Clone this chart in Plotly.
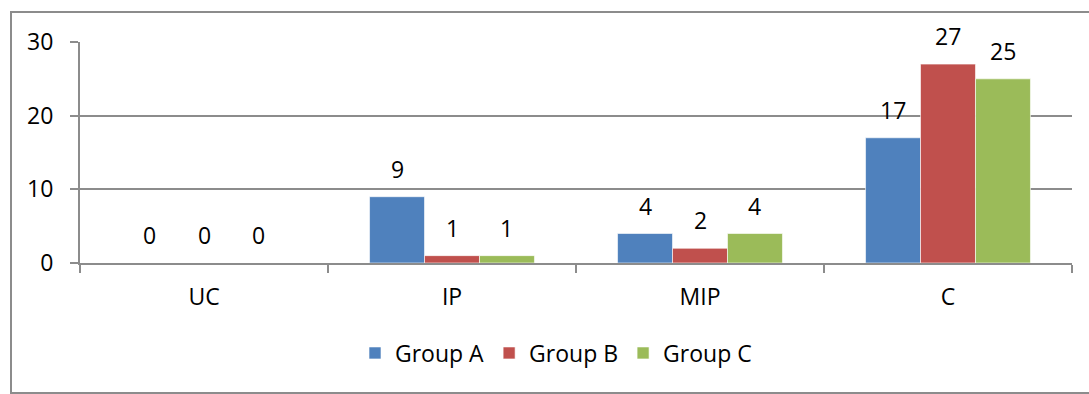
import plotly.graph_objects as go

# Counts per category for each group
categories = ["UC", "IP", "MIP", "C"]
group_a = [0, 9, 4, 17]
group_b = [0, 1, 2, 27]
group_c = [0, 1, 4, 25]
series_names = ["Group A", "Group B", "Group C"]
series_colors = ["#4F81BD", "#C0504D", "#9BBB59"]
y_ticks = [0, 10, 20, 30]

FONT = "Open Sans"
FS = 23
GRID = "#8C8C8C"

W, H = 1089, 394
ML, MR, MT, MB = 80, 17, 42, 131
plot_w = W - ML - MR
plot_h = H - MT - MB
BARGAP = 0.335
bar_px = plot_w / len(categories) * (1 - BARGAP) / 3

fig = go.Figure()
all_series = [group_a, group_b, group_c]
for name, vals, color in zip(series_names, all_series, series_colors):
    fig.add_trace(go.Bar(
        x=categories, y=vals, name=name,
        marker=dict(color=color, line=dict(color="rgba(255,255,255,0.6)", width=1)),
    ))

# Value labels above each bar
annotations = []
for i, vals in enumerate(all_series):
    for cat, v in zip(categories, vals):
        annotations.append(dict(
            x=cat, y=v, xref="x", yref="y", text=str(v), showarrow=False,
            xshift=(i - 1) * bar_px, yshift=10, yanchor="bottom",
            font=dict(family=FONT, size=FS, color="#000000"),
        ))

# Outer chart border in paper coordinates
def px_to_paper_x(px):
    return (px - ML) / plot_w

def px_to_paper_y(py):
    return (H - MB - py) / plot_h

fig.add_shape(
    type="rect", xref="paper", yref="paper",
    x0=px_to_paper_x(11), x1=px_to_paper_x(1100),
    y0=px_to_paper_y(393), y1=px_to_paper_y(12),
    line=dict(color="#8C8C8C", width=2), fillcolor="rgba(0,0,0,0)", layer="below",
)

fig.update_layout(
    width=W, height=H,
    margin=dict(l=ML, r=MR, t=MT, b=MB),
    paper_bgcolor="white", plot_bgcolor="white",
    barmode="group", bargap=BARGAP, bargroupgap=0,
    font=dict(family=FONT, size=FS, color="#000000"),
    annotations=annotations,
    showlegend=True,
    legend=dict(
        orientation="h", x=px_to_paper_x(556), xanchor="center",
        y=px_to_paper_y(353), yanchor="middle",
        font=dict(family=FONT, size=FS), itemwidth=30,
        bgcolor="rgba(0,0,0,0)",
    ),
    xaxis=dict(
        showline=True, linecolor=GRID, linewidth=2,
        ticks="outside", tickson="boundaries", ticklen=8, tickwidth=2, tickcolor=GRID,
        ticklabelstandoff=12, showgrid=False,
        tickfont=dict(family=FONT, size=FS),
    ),
    yaxis=dict(
        range=[0, 30], tickvals=y_ticks,
        showline=True, linecolor=GRID, linewidth=2,
        showgrid=True, gridcolor=GRID, gridwidth=2,
        ticks="outside", ticklen=8, tickwidth=2, tickcolor=GRID,
        ticklabelstandoff=12, zeroline=False,
        tickfont=dict(family=FONT, size=FS),
    ),
)

fig.write_html("out.html")
